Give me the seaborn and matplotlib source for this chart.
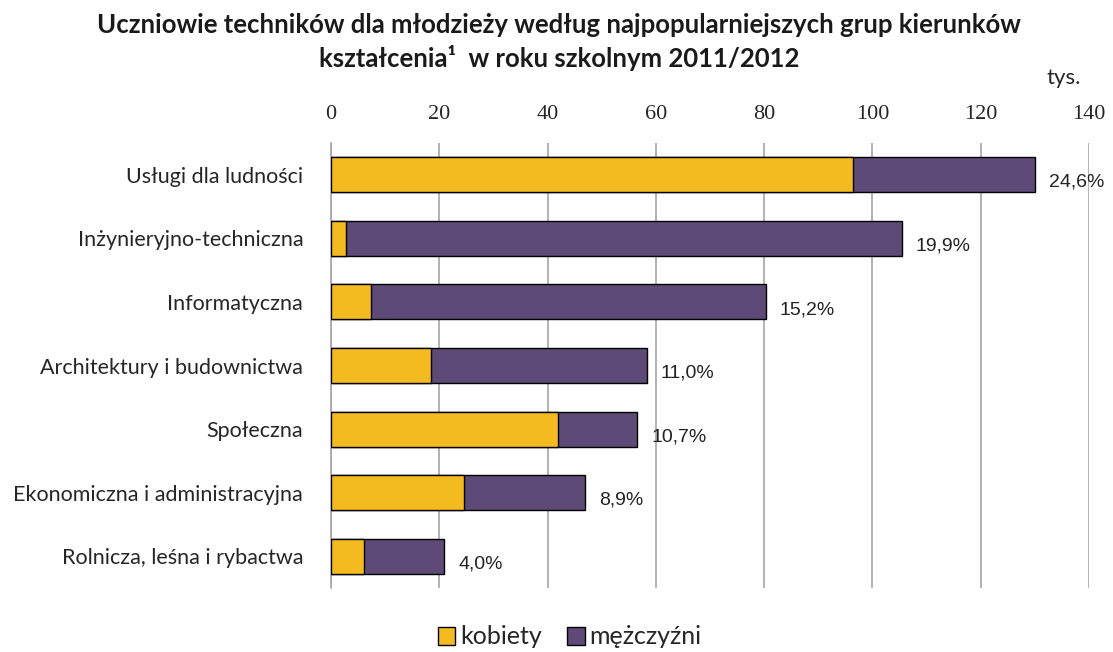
import numpy as np
import matplotlib
matplotlib.use("Agg")
import matplotlib.pyplot as plt
import seaborn as sns
import pandas as pd
from matplotlib.patches import Patch

categories = ["Usługi dla ludności", "Inżynieryjno-techniczna", "Informatyczna",
              "Architektury i budownictwa", "Społeczna",
              "Ekonomiczna i administracyjna", "Rolnicza, leśna i rybactwa"]
kobiety = [96.5, 2.8, 7.3, 18.5, 42.0, 24.6, 6.1]
mezczyzni = [33.6, 102.6, 73.0, 39.8, 14.6, 22.4, 14.8]
shares = ["24,6%", "19,9%", "15,2%", "11,0%", "10,7%", "8,9%", "4,0%"]
xticks = [0, 20, 40, 60, 80, 100, 120, 140]

yellow = "#F4BB20"
purple = "#5D4A76"

df = pd.DataFrame({"kat": categories, "k": kobiety, "m": mezczyzni})
df["razem"] = df["k"] + df["m"]

sns.set_style("white")
plt.rcParams["font.family"] = ["Lato", "DejaVu Sans"]

fig = plt.figure(figsize=(11.13, 6.52), dpi=100)
ax = fig.add_axes([331 / 1113, 1 - 588 / 652, (1089 - 331) / 1113, (588 - 143) / 652])

# stacked: total (purple) first, then women (yellow) over it
sns.barplot(data=df, x="razem", y="kat", color=purple, saturation=1,
            width=0.55, edgecolor="black", linewidth=1, ax=ax, zorder=3)
sns.barplot(data=df, x="k", y="kat", color=yellow, saturation=1,
            width=0.55, edgecolor="black", linewidth=1, ax=ax, zorder=4)

for i, (tot, s) in enumerate(zip(df["razem"], shares)):
    ax.text(tot + 2.6, i + 0.12, s, ha="left", va="center", fontsize=14,
            family="Liberation Sans", color="#222222")

ax.set_xlim(0, 140)
ax.set_ylim(6.5, -0.5)
ax.set_xticks(xticks)
ax.xaxis.tick_top()
ax.tick_params(axis="x", length=0, pad=14, labelsize=16)
for lab in ax.get_xticklabels():
    lab.set_family("Liberation Serif")
ax.tick_params(axis="y", length=0, pad=20, labelsize=15.5)
ax.set_xlabel("")
ax.set_ylabel("")
ax.grid(axis="x", color="#A6A6A6", linewidth=1.2, zorder=0)
ax.set_axisbelow(True)
for side in ["top", "right", "bottom"]:
    ax.spines[side].set_visible(False)
ax.spines["left"].set_color("#A6A6A6")
ax.spines["left"].set_linewidth(1.2)

fig.text(0.502, 1 - 25 / 652,
         "Uczniowie techników dla młodzieży według najpopularniejszych grup kierunków",
         ha="center", va="center", fontsize=18.5, fontweight="bold", color="#1a1a1a")
fig.text(0.502, 1 - 58 / 652, "kształcenia\u00b9  w roku szkolnym 2011/2012",
         ha="center", va="center", fontsize=18.5, fontweight="bold", color="#1a1a1a")
fig.text(1064 / 1113, 1 - 78 / 652, "tys.", ha="center", va="center", fontsize=16)

handles = [Patch(facecolor=yellow, edgecolor="black", label="kobiety"),
           Patch(facecolor=purple, edgecolor="black", label="mężczyźni")]
fig.legend(handles=handles, loc="center", bbox_to_anchor=(0.512, 1 - 637 / 652),
           ncol=2, frameon=False, fontsize=18, handlelength=0.7, handleheight=0.7,
           handletextpad=0.2, columnspacing=1.0)

fig.savefig("out.png", dpi=100)
